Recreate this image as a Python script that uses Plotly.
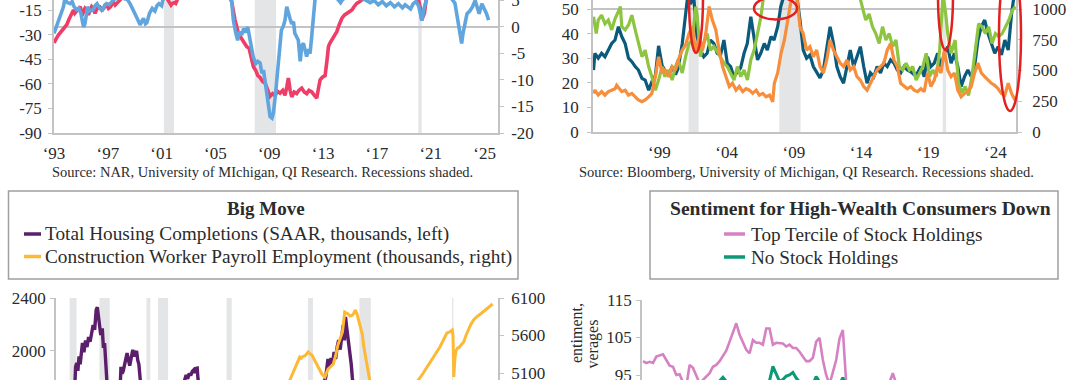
import plotly.graph_objects as go

W, H = 1080, 380
def X(px): return px / W
def Y(py): return 1 - py / H

FONT = "Liberation Serif"
AX = "#c3c3c3"
TXT = "#2b2b2b"
REC = "#e4e5e7"

# ---------------- Top-left panel (NAR / UMich) ----------------
tl_red_years = [1993.0,1993.1,1993.2,1993.35,1993.45,1993.6,1993.7,1993.85,1993.95,1994.1,1994.2,1994.3,1994.45,1994.55,1994.7,1994.8,1994.95,1995.05,1995.15,1995.3,1995.4,1995.55,1995.65,1995.8,1995.9,1996.05,1996.15,1996.3,1996.4,1996.55,1996.7,1996.8,1996.92,1997.05,1997.2,1997.3,1997.41,1997.55,1997.7,1997.9,1998.1,1998.5,1999.0,1999.5,2000.0,2000.5,2001.0,2001.4,2001.55,2001.7,2001.8,2001.95,2002.05,2002.2,2002.5,2003.0,2004.0,2005.0,2005.8,2006.1,2006.21,2006.33,2006.45,2006.58,2006.7,2006.83,2007.0,2007.15,2007.33,2007.5,2007.65,2007.82,2008.0,2008.15,2008.3,2008.5,2008.69,2008.85,2009.06,2009.25,2009.43,2009.6,2009.8,2010.0,2010.17,2010.3,2010.42,2010.55,2010.67,2010.85,2011.04,2011.2,2011.41,2011.6,2011.78,2011.95,2012.16,2012.35,2012.53,2012.65,2012.78,2012.95,2013.15,2013.3,2013.4,2013.52,2013.65,2013.85,2014.02,2014.2,2014.4,2014.6,2014.77,2014.95,2015.14,2015.3,2015.5,2015.7,2015.88,2016.2,2017.0,2018.0,2019.0,2019.8,2020.1,2020.21,2020.33,2020.45,2020.53,2020.66,2020.9,2022.0,2023.0,2024.0,2025.3]
tl_red_vals = [-35,-33,-32,-30,-29,-28,-27,-25,-24,-21,-19,-17,-15,-17,-15.5,-14,-13,-16,-17,-14,-15,-18,-16,-13,-14,-17,-15,-13,-13,-15,-14,-12,-12,-14,-13,-11,-10,-12,-11,-9,-7,-5,-4,-5,-6,-5,-6,-8,-10,-12,-11,-10.5,-11,-8,-5,-3,-2,-3,-5,-8,-10,-17,-21,-25,-29,-31,-33,-35,-37.4,-38.4,-44,-49.6,-52,-55,-56,-58.6,-59.6,-63,-67.7,-66,-67.2,-64.5,-65.7,-64,-67,-62,-56.5,-64,-68,-65,-66,-64,-62.6,-65,-66,-64,-65,-67,-68.7,-63,-57.6,-56,-55,-45,-37.3,-35,-33.2,-30,-28.2,-24,-20,-18,-17,-16,-15,-13,-11,-10,-9,-7,-5,-6,-4,-6,-9,-13,-21,-19,-17,-9,-5,-3,-5,-4,-5]

tl_blue_years = [1993.0,1993.1,1993.2,1993.35,1993.45,1993.6,1993.7,1993.8,1994.0,1994.2,1994.35,1994.5,1994.7,1994.85,1995.0,1995.1,1995.2,1995.3,1995.4,1995.5,1995.65,1995.9,1996.05,1996.2,1996.4,1996.6,1996.75,1996.9,1997.1,1997.3,1997.5,1998.0,1998.45,1998.65,1998.85,1999.0,1999.2,1999.4,1999.55,1999.65,1999.8,1999.9,2000.1,2000.3,2000.5,2000.65,2000.8,2001.0,2001.1,2001.5,2003.0,2005.0,2006.0,2006.2,2006.33,2006.5,2006.65,2006.8,2006.95,2007.1,2007.25,2007.4,2007.55,2007.8,2008.0,2008.15,2008.32,2008.45,2008.57,2008.7,2008.8,2008.95,2009.06,2009.2,2009.3,2009.45,2009.55,2009.67,2009.8,2009.9,2010.05,2010.17,2010.3,2010.42,2010.55,2010.67,2010.8,2010.9,2011.05,2011.16,2011.3,2011.42,2011.54,2011.65,2011.78,2011.9,2012.03,2012.15,2012.28,2012.4,2013.0,2014.0,2014.3,2014.45,2015.0,2016.0,2016.5,2016.8,2017.1,2017.4,2017.7,2018.0,2018.3,2018.6,2018.9,2019.1,2019.3,2019.5,2019.7,2019.9,2020.1,2020.25,2020.35,2020.5,2020.7,2021.5,2022.5,2022.8,2023.0,2023.15,2023.3,2023.4,2023.55,2023.7,2023.9,2024.1,2024.3,2024.45,2024.6,2024.8,2025.0,2025.15,2025.3]
tl_blue_vals = [-1.2,-0.5,0.0,1.0,1.9,3.0,3.8,5.2,4.6,4.4,4.8,3.8,3.2,3.5,2.6,1.2,0.0,0.6,2.5,3.8,3.0,3.2,4.0,4.4,3.5,3.2,4.0,4.4,4.2,4.8,5.3,5.5,5.2,4.4,3.5,2.6,1.5,0.4,1.2,1.6,0.6,0.8,2.6,3.5,3.0,4.0,4.4,4.0,5.2,6,7,6,5.5,5.0,1.3,-1.0,-2.5,-0.9,-1.5,-0.3,-1.0,0.0,-2.5,-5.6,-6.9,-6.5,-6.8,-8.7,-8.1,-10.6,-13.1,-15,-16.9,-17.2,-16.3,-13,-10.6,-7.5,-3.5,-0.6,0.2,1.3,3.8,2.5,1.5,0.6,1.0,-1.2,-1.8,-2.5,-6.5,-3.5,-3.1,-4.5,-5.6,-4.2,-5.0,-1.9,2.5,5.2,7,5.5,4.6,5.2,6,5.3,4.6,5.0,4.2,4.8,4.0,4.6,3.8,4.4,3.6,4.2,3.8,3.4,4.4,4.8,4.0,1.8,1.2,3.5,5.3,7,5.5,4.5,1.3,-1.0,-3.1,-1.2,1.0,2.5,3.0,3.8,5.0,3.5,2.5,4.4,3.5,2.5,1.3]

tl_left_ticks = [-90, -75, -60, -45, -30, -15]
tl_right_ticks = [-20, -15, -10, -5, 0, 5]
tl_year_ticks = [1993, 1997, 2001, 2005, 2009, 2013, 2017, 2021, 2025]
tl_source = "Source: NAR, University of MIchigan, QI Research. Recessions shaded."

# ---------------- Top-right panel (Bloomberg / UMich) ----------------
tr_teal_years = [1994.1,1994.2,1994.45,1994.7,1994.95,1995.2,1995.45,1995.7,1995.95,1996.2,1996.45,1996.7,1996.95,1997.2,1997.44,1997.7,1997.94,1998.2,1998.44,1998.7,1998.94,1999.2,1999.4,1999.7,1999.95,2000.2,2000.4,2000.7,2000.95,2001.1,2001.3,2001.55,2001.8,2002.05,2002.3,2002.55,2002.8,2003.05,2003.3,2003.55,2003.8,2004.05,2004.3,2004.54,2004.8,2005.04,2005.3,2005.54,2005.8,2006.04,2006.3,2006.54,2006.8,2007.03,2007.3,2007.53,2007.8,2008.03,2008.3,2008.8,2009.2,2009.46,2009.7,2009.95,2010.2,2010.45,2010.7,2010.95,2011.2,2011.45,2011.7,2011.95,2012.2,2012.45,2012.7,2012.95,2013.2,2013.45,2013.7,2013.95,2014.2,2014.45,2014.7,2014.95,2015.2,2015.45,2015.7,2015.95,2016.2,2016.45,2016.7,2016.95,2017.2,2017.45,2017.7,2017.95,2018.2,2018.45,2018.7,2018.95,2019.2,2019.45,2019.7,2019.95,2020.2,2020.45,2020.7,2020.95,2021.2,2021.45,2021.7,2021.95,2022.2,2022.45,2022.7,2022.95,2023.2,2023.45,2023.7,2023.95,2024.2,2024.45,2024.7,2024.95,2025.2,2025.4]
tr_teal_vals = [25.2,32,30,32,30.6,33.3,36,37.4,42.8,38.8,36,30,28.6,26.6,25.2,21.8,21.1,17,20.5,23,35,27,25.2,23.3,26.6,23.3,26,36,48.2,55,52,55,38.8,33.3,30.6,32,37.4,36,32,31.3,37.4,28,26.6,22.5,24.5,26,32,36,46.9,38.8,29.3,32,36,33.3,38.8,37.4,42.8,51,56,58,56,45.5,33.3,30,31.3,26.6,24,22,25.2,33.3,42.8,36,26.6,22.5,19.8,26.6,33.3,26.6,30.6,34.7,26.6,19.8,24,22.5,26.6,24,28,26.6,29.3,28,25.2,24,26.6,25.2,24.5,23.3,24,26.6,22.5,30.6,26.6,28,32,26.6,32,34.7,28,32,26.6,18.5,22.5,25.2,22.5,26.6,37.4,42.8,45.5,40,36,32,34.7,31.3,37.4,33.3,48,56]

tr_green_years = [1994.1,1994.3,1994.45,1994.7,1994.95,1995.2,1995.45,1995.7,1995.95,1996.1,1996.2,1996.45,1996.7,1996.95,1997.2,1997.44,1997.7,1997.94,1998.2,1998.44,1998.7,1998.94,1999.2,1999.4,1999.7,1999.95,2000.2,2000.4,2000.7,2000.95,2001.2,2001.45,2001.7,2001.8,2002.05,2002.3,2002.55,2002.8,2003.05,2003.3,2003.55,2003.8,2004.05,2004.3,2004.55,2004.8,2005.05,2005.3,2005.55,2005.8,2006.05,2006.3,2006.55,2006.75,2007.5,2009.0,2011.0,2013.0,2013.9,2014.1,2014.35,2014.6,2014.85,2015.1,2015.35,2015.6,2015.85,2016.1,2016.35,2016.6,2016.85,2017.1,2017.35,2017.6,2017.85,2018.1,2018.35,2018.6,2018.85,2019.1,2019.35,2019.6,2019.85,2020.1,2020.3,2020.45,2020.7,2021.0,2021.25,2021.5,2021.75,2022.0,2022.25,2022.5,2022.75,2023.0,2023.25,2023.5,2023.75,2024.0,2024.25,2024.5,2024.75,2025.0,2025.25,2025.5]
tr_green_vals = [46.9,40,45.5,47.5,44,45.5,41.5,46,49,51,42.8,41.5,43.5,47.5,41.5,36,30.6,33.3,26.6,22.5,17,21.1,26.6,22.5,25.2,21.1,26.6,29.3,24,30.6,36,37.4,51,48,30.6,36,40,33.3,34.7,32.7,30.6,28,26.6,24,21.1,26.6,22.5,25.2,21.1,29.3,33.3,40,46.9,55,60,62,60,58,55,51,45.5,48,42.8,40,36,42.8,37.4,40,34.7,37.4,26.6,25.2,28,25.2,26.6,21.1,24,26.6,32,22.5,25.2,22.5,33.3,56,48,40,32,37.4,19.8,16,18.5,14.9,22.5,33.3,44,42.8,40,42.8,36,40,38.8,40,42.8,45.5,49.5,51]

# orange series is read against the right-hand axis (0-1000 scale)
tr_orange_years = [1994.1,1994.2,1994.45,1994.7,1994.95,1995.2,1995.45,1995.7,1995.82,1996.2,1996.45,1996.7,1996.95,1997.2,1997.44,1997.7,1997.94,1998.2,1998.44,1998.7,1998.94,1999.2,1999.4,1999.7,1999.95,2000.2,2000.4,2000.7,2000.95,2001.2,2001.45,2001.7,2001.95,2002.2,2002.45,2002.7,2002.94,2003.2,2003.44,2003.7,2003.94,2004.2,2004.44,2004.7,2004.94,2005.2,2005.44,2005.7,2005.94,2006.2,2006.43,2006.7,2006.93,2007.2,2007.43,2007.55,2007.8,2008.05,2008.3,2008.55,2008.8,2009.0,2009.2,2009.46,2009.7,2009.95,2010.2,2010.45,2010.7,2010.95,2011.2,2011.45,2011.7,2011.95,2012.2,2012.45,2012.7,2012.95,2013.2,2013.45,2013.7,2013.95,2014.2,2014.45,2014.7,2014.95,2015.2,2015.45,2015.7,2015.95,2016.2,2016.45,2016.7,2016.95,2017.2,2017.45,2017.7,2017.95,2018.2,2018.45,2018.7,2018.95,2019.2,2019.45,2019.7,2019.95,2020.2,2020.45,2020.7,2020.95,2021.2,2021.45,2021.7,2021.95,2022.2,2022.45,2022.7,2022.95,2023.2,2023.45,2023.7,2023.95,2024.2,2024.45,2024.7,2024.95,2025.2,2025.45]
tr_orange_vals = [314,340,300,328,300,328,340,352,380,328,340,300,314,286,260,246,260,286,314,450,612,480,504,450,532,504,586,666,708,800,856,640,776,666,800,1020,910,830,666,532,450,370,396,340,370,328,352,340,314,340,300,314,286,300,246,396,480,640,748,910,1100,1200,1120,856,800,666,694,612,666,532,480,586,748,666,612,560,532,586,504,532,450,422,370,340,396,450,504,532,560,666,720,586,532,396,370,352,370,340,328,352,328,480,370,422,532,480,666,504,450,480,340,286,314,328,370,480,560,480,450,422,396,380,352,314,300,396,314,260]

tr_left_ticks = [0, 10, 20, 30, 40, 50]
tr_right_ticks = [0, 250, 500, 750, 1000]
tr_year_ticks = [1999, 2004, 2009, 2014, 2019, 2024]
tr_source = "Source: Bloomberg, University of Michigan, QI Research. Recessions shaded."

recessions_recent = [(2001.17, 2001.92), (2007.92, 2009.5), (2020.08, 2020.33)]

# ---------------- Bottom-left panel (Big Move) ----------------
bl_title = "Big Move"
bl_names = ["Total Housing Completions (SAAR, thousands, left)",
            "Construction Worker Payroll Employment (thousands, right)"]
bl_purple_years = [1968.2,1969.0,1970.0,1970.5,1970.7,1970.85,1971.0,1971.15,1971.3,1971.45,1971.6,1971.8,1972.0,1972.2,1972.4,1972.6,1972.8,1973.0,1973.2,1973.4,1973.55,1973.7,1973.85,1974.0,1974.2,1974.35,1974.5,1974.7,1974.9,1975.3,1976.0,1976.5,1976.65,1976.8,1976.95,1977.1,1977.3,1977.45,1977.6,1977.8,1978.0,1978.2,1978.4,1978.55,1978.7,1978.85,1979.0,1979.2,1979.6,1980.5,1982.0,1983.5,1984.5,1985.0,1985.2,1985.4,1985.6,1985.8,1986.0,1986.2,1986.35,1986.5,1986.65,1986.75,1987.2,1990.0,1991.5,1995.0,2000.0,2003.0,2003.5,2003.8,2004.0,2004.2,2004.4,2004.6,2004.8,2005.0,2005.2,2005.4,2005.6,2005.8,2005.95,2006.1,2006.25,2006.4,2006.55,2006.7,2006.85,2007.0,2007.5,2009.0,2012.0,2016.0,2020.0,2022.0,2024.0,2025.3]
bl_purple_vals = [1400,1450,1400,1600,1880,1910,1850,1960,1900,2020,2060,1990,2080,2030,2105,2070,2150,2196,2160,2310,2330,2272,2200,2120,2170,2023,2060,1909,1750,1300,1400,1650,1880,1830,1850,1900,1970,1985,1940,1890,1950,2008,1960,1985,2000,1930,1900,1770,1650,1300,1000,1400,1700,1780,1819,1790,1830,1815,1845,1857,1835,1868,1870,1790,1650,1300,1000,1300,1600,1720,1800,1940,1880,1947,1900,1992,1940,2030,2083,2010,2121,2196,2080,2257,2180,2121,2030,1992,1900,1796,1550,800,600,1100,1300,1400,1600,1400]

bl_yellow_years = [1968.2,1975.0,1980.0,1985.0,1990.0,1992.0,1995.0,1998.0,1998.8,1999.2,1999.5,1999.8,2000.1,2000.3,2000.5,2000.8,2001.0,2001.2,2001.45,2001.7,2002.0,2002.4,2002.7,2003.0,2003.4,2003.6,2003.8,2004.1,2004.5,2004.8,2005.1,2005.4,2005.7,2005.85,2006.0,2006.2,2006.4,2006.7,2007.0,2007.2,2007.4,2007.6,2007.8,2008.05,2008.3,2008.5,2008.7,2009.0,2009.5,2010.5,2012.0,2014.0,2015.6,2016.3,2016.8,2017.2,2017.6,2018.1,2018.5,2018.8,2019.1,2019.4,2019.8,2020.1,2020.2,2020.3,2020.45,2020.6,2020.8,2021.0,2021.2,2021.6,2021.9,2022.2,2022.5,2022.9,2023.3,2023.8,2024.2,2024.7,2025.0,2025.4]
bl_yellow_vals = [3200,3400,3800,3900,4300,3700,4200,4800,5007,5100,5167,5250,5313,5300,5320,5330,5360,5380,5355,5340,5280,5207,5150,5087,5047,5090,5153,5180,5220,5330,5473,5560,5647,5780,5913,5900,5890,5860,5870,5900,5940,5890,5820,5720,5620,5450,5273,4980,4600,4300,4350,4700,5000,5100,5180,5247,5310,5380,5450,5513,5570,5633,5650,5673,5600,5047,5300,5400,5433,5440,5467,5513,5600,5673,5740,5807,5850,5887,5920,5953,5985,6020]

bl_left_ticks = [2000, 2400]
bl_right_ticks = [5100, 5600, 6100]
recessions_long = [(1969.92, 1970.83), (1973.83, 1975.17), (1980.0, 1980.5), (1981.5, 1982.83),
                   (1990.5, 1991.17), (2001.17, 2001.83), (2007.92, 2009.42), (2020.08, 2020.25)]

# ---------------- Bottom-right panel (Sentiment by stock holdings) ----------------
br_title = "Sentiment for High-Wealth Consumers Down"
br_names = ["Top Tercile of Stock Holdings", "No Stock Holdings"]
br_months = list(range(78))
br_pink = [98.7,98.2,98.5,98.2,99.9,100.3,100.5,99.0,97.5,97.2,95.0,95.2,93.0,92.0,97.7,96.9,94.6,92.8,93.7,94.6,95.5,97.2,97.7,98.7,100.2,101.5,103.9,106.5,108.8,105.7,103.6,101.7,100.8,104.3,103.6,103.6,103.1,107.4,107.4,103.1,103.6,103.5,103.4,102.6,103.1,102.2,102.2,101.2,99.9,98.7,98.7,99.6,103.9,104.9,99.0,95.0,92.5,95.5,99.0,104.7,107.0,93.0,88.0,86,85,86,87,86,88,87,89,90,91,92,93.0,95.5,93.0,90]
br_green = [89,88.5,89,88,89.5,90,89,88,87.5,88,87,86.5,86,85.5,87,87.5,88,89,90,91,91.5,92,92.5,93.4,94.4,93.3,92,91,91.5,92,91,90.5,91,92,91.5,92,92.5,93,93.5,97.3,95.0,93.3,93.8,94.7,95.0,95.7,94.2,93.0,92,91,91.5,92.5,94.6,93.2,91,90,89,90,91,92.5,94.3,92,87,86,85,86,86.5,87,86,87,87.5,88,88.5,89,89.5,89,88.5,88]
br_left_ticks = [95, 105, 115]
br_ytitle_parts = ["entiment,", "verages"]

# ---------------- colours ----------------
C_RED, C_BLUE = "#ee3d66", "#61a5de"
C_TEAL, C_GREEN, C_ORANGE = "#0b5a7c", "#8dc540", "#f68e3b"
C_PURPLE, C_YELLOW = "#5b1e6a", "#fdb933"
C_PINK, C_DGREEN = "#d681c3", "#0b9a76"
C_ELLIPSE = "#e3201f"

fig = go.Figure()

def line(x, y, xa, ya, color, width):
    fig.add_trace(go.Scatter(x=x, y=y, xaxis=xa, yaxis=ya, mode="lines",
                             line=dict(color=color, width=width),
                             showlegend=False, hoverinfo="skip"))

line(tl_red_years, tl_red_vals, "x", "y", C_RED, 3.6)
line(tl_blue_years, tl_blue_vals, "x", "y2", C_BLUE, 3.6)
line(tr_teal_years, tr_teal_vals, "x2", "y3", C_TEAL, 3.2)
line(tr_orange_years, tr_orange_vals, "x2", "y4", C_ORANGE, 3.2)
line(tr_green_years, tr_green_vals, "x2", "y3", C_GREEN, 3.2)
line(bl_purple_years, bl_purple_vals, "x3", "y5", C_PURPLE, 3.4)
line(bl_yellow_years, bl_yellow_vals, "x3", "y6", C_YELLOW, 3.0)
line(br_months, br_pink, "x4", "y7", C_PINK, 2.6)
line(br_months, br_green, "x4", "y7", C_DGREEN, 3.0)

tickfont = dict(family=FONT, size=17, color=TXT)

def yax(domain, rng, ticks, side="left", overlay=None, anchor=None, standoff=3, ticklen=4):
    d = dict(range=rng, tickvals=ticks, ticktext=[f"{t:g}".replace("\u2212", "-") for t in ticks],
             showgrid=False, zeroline=False, showline=True, linecolor=AX, linewidth=1.5,
             ticks="outside", ticklen=ticklen, tickcolor=AX, tickwidth=1.3, automargin=False,
             tickfont=tickfont, side=side, ticklabelstandoff=standoff, fixedrange=True,
             ticklabeloverflow="allow")
    if overlay:
        d["overlaying"] = overlay
    else:
        d["domain"] = domain
    if anchor:
        d["anchor"] = anchor
    return d

def xax(domain, rng, ticks=None, text=None, anchor=None, show=True, standoff=4):
    d = dict(domain=domain, range=rng, showgrid=False, zeroline=False, automargin=False,
             showline=show, linecolor=AX, linewidth=1.5, ticks="", fixedrange=True,
             anchor=anchor, ticklabeloverflow="allow")
    if ticks is not None:
        d.update(tickvals=ticks, ticktext=text, tickfont=tickfont, ticklabelstandoff=standoff)
    else:
        d.update(showticklabels=False)
    return d

tl_xdom = [X(54), X(498)]
tl_ydom = [Y(133), 1]
tr_xdom = [X(593), X(1016)]
tr_ydom = [Y(132), 1]
bl_xdom = [X(56), X(498)]
bl_ydom = [0, Y(298)]
br_xdom = [X(642), X(1050)]
br_ydom = [0, Y(300)]

fig.update_layout(
    xaxis=xax(tl_xdom, [1993.0, 2026.0], tl_year_ticks, [f"\u2018{y % 100:02d}" for y in tl_year_ticks], "y"),
    yaxis=yax(tl_ydom, [-90, -8.9], tl_left_ticks, anchor="x"),
    yaxis2=yax(None, [-20, 5.09], tl_right_ticks, side="right", overlay="y", anchor="x", standoff=4),
    xaxis2=xax(tr_xdom, [1994.06, 2025.53], tr_year_ticks, [f"\u2018{y % 100:02d}" for y in tr_year_ticks], "y3"),
    yaxis3=yax(tr_ydom, [0, 53.66], tr_left_ticks, anchor="x2", standoff=5),
    yaxis4=yax(None, [0, 1073.2], tr_right_ticks, side="right", overlay="y3", anchor="x2", standoff=7),
    xaxis3=xax(bl_xdom, [1968.13, 2026.1], anchor="y5", show=False),
    yaxis5=yax(bl_ydom, [1781, 2400], bl_left_ticks, anchor="x3", standoff=1),
    yaxis6=yax(None, [5007, 6100], bl_right_ticks, side="right", overlay="y5", anchor="x3", standoff=4),
    xaxis4=xax(br_xdom, [-0.3, 122.2], anchor="y7", show=False),
    yaxis7=yax(br_ydom, [93.67, 115], br_left_ticks, anchor="x4", standoff=1),
)

shapes = []
# recession shading
for a, b in recessions_recent:
    for xr, yr in (("x", "y domain"), ("x2", "y3 domain")):
        shapes.append(dict(type="rect", xref=xr, yref=yr, x0=a, x1=b, y0=0, y1=1,
                           fillcolor=REC, line=dict(width=0), layer="below"))
for a, b in recessions_long:
    shapes.append(dict(type="rect", xref="x3", yref="y5 domain", x0=a, x1=b, y0=0, y1=1,
                       fillcolor=REC, line=dict(width=0), layer="below"))
# reference lines
shapes.append(dict(type="line", xref="x domain", yref="y2", x0=0, x1=1, y0=0, y1=0,
                   line=dict(color=AX, width=2), layer="below"))
shapes.append(dict(type="line", xref="x2 domain", yref="y3", x0=0, x1=1, y0=50, y1=50,
                   line=dict(color=AX, width=2), layer="below"))
# hand-drawn red ellipses (pixel positions on the image)
for x0, x1, y0, y1 in [(689, 703, -60, 53), (754, 797, -3, 19.5), (938, 953, -60, 50), (999, 1021, -40, 111)]:
    shapes.append(dict(type="circle", xref="paper", yref="paper", x0=X(x0), x1=X(x1),
                       y0=Y(y1), y1=Y(y0), line=dict(color=C_ELLIPSE, width=2.5)))
# legend boxes
for x0, x1 in [(8.5, 518), (650, 1058)]:
    shapes.append(dict(type="rect", xref="paper", yref="paper", x0=X(x0), x1=X(x1),
                       y0=Y(279), y1=Y(191), line=dict(color="#a0a0a0", width=1.5)))
# legend keys
for (lx0, lx1, ly, col) in [(24, 41, 234, C_PURPLE), (24, 41, 256.5, C_YELLOW),
                            (724, 745, 234, C_PINK), (724, 745, 257, C_DGREEN)]:
    shapes.append(dict(type="line", xref="paper", yref="paper", x0=X(lx0), x1=X(lx1),
                       y0=Y(ly), y1=Y(ly), line=dict(color=col, width=3.5)))
fig.update_layout(shapes=shapes)

ann = []
def text(t, px, py, size=17, xanchor="center", bold=False, angle=0, yanchor="middle"):
    ann.append(dict(text=f"<b>{t}</b>" if bold else t, x=X(px), y=Y(py), xref="paper", yref="paper",
                    showarrow=False, xanchor=xanchor, yanchor=yanchor, textangle=angle,
                    font=dict(family=FONT, size=size, color=TXT)))

text(tl_source, 262, 172, size=14.5)
text(tr_source, 806, 172, size=14.5)
text(bl_title, 266, 208, size=19, bold=True)
text(bl_names[0], 43, 234, size=19.3, xanchor="left")
text(bl_names[1], 43, 256.5, size=19.3, xanchor="left")
text(br_title, 860, 208, size=19.6, bold=True)
text(br_names[0], 749, 234, size=19.2, xanchor="left")
text(br_names[1], 749, 257, size=19.2, xanchor="left")
text(br_ytitle_parts[0], 576, 301, size=16, angle=-90, yanchor="top")
text(br_ytitle_parts[1], 592, 318, size=16, angle=-90, yanchor="top")
fig.update_layout(annotations=ann)

fig.update_layout(width=W, height=H, margin=dict(l=0, r=0, t=0, b=0, pad=0, autoexpand=False),
                  paper_bgcolor="white", plot_bgcolor="rgba(0,0,0,0)", showlegend=False)

fig.write_html("out.html", config=dict(displayModeBar=False),
               post_script="document.body.style.margin='0';document.body.style.overflow='hidden';")
